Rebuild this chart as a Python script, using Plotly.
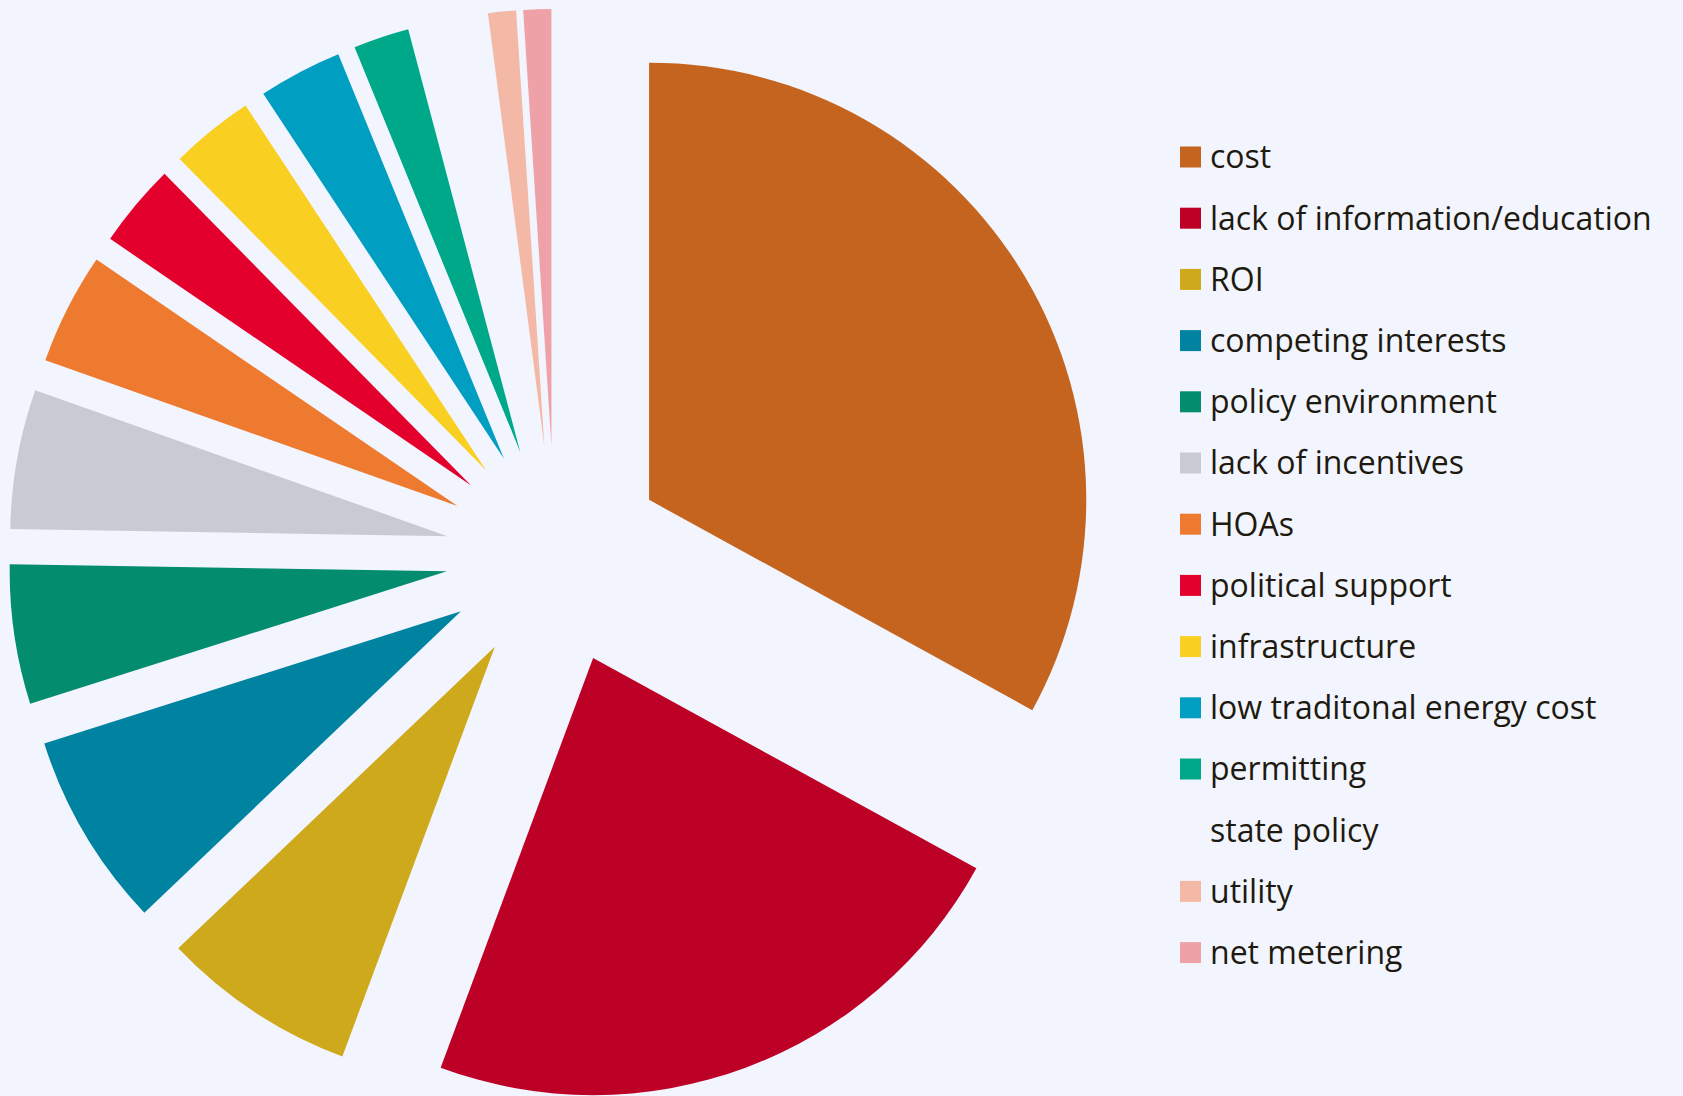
"""
Barriers pie chart with every slice pulled out and a hand-built legend.
"""

import plotly.graph_objects as go

# ============================================================================
# Data
# ============================================================================

labels = [
    "cost", "lack of information/education", "ROI", "competing interests",
    "policy environment", "lack of incentives", "HOAs", "political support",
    "infrastructure", "low traditonal energy cost", "permitting",
    "state policy", "utility", "net metering",
]
counts = [32, 22, 7, 7, 5, 5, 4, 3, 3, 3, 2, 2, 1, 1]
colors = [
    "#C4641F", "#BC0026", "#CFA91C", "#0083A0", "#038C6E", "#C9CAD4",
    "#ED7A2F", "#E4002D", "#F9D022", "#009FC2", "#00A88A",
    "rgba(0,0,0,0)", "#F4B9A6", "#EEA1A6",
]

# ============================================================================
# Layout constants
# ============================================================================

W, H = 1683, 1102   # a few px taller than the window, bottom is clipped
TOP = 9
BG = "#F2F5FD"


def px_x(x):
    return x / W


def px_y(y):
    return 1 - (y - TOP) / (H - TOP)


fig = go.Figure()

fig.add_trace(go.Pie(
    labels=labels,
    values=counts,
    marker=dict(colors=colors, line=dict(width=0)),
    pull=[0.25] * len(labels),
    sort=False,
    direction="clockwise",
    rotation=0,
    textinfo="none",
    hoverinfo="label+value+percent",
    domain=dict(x=[0, 1110 / W], y=[0, 1]),
    showlegend=False,
))

# Legend drawn by hand so the swatches and spacing match the original
leg_x, leg_y0, leg_step, sw = 1180, 156, 61.2, 21
for i, (lab, col) in enumerate(zip(labels, colors)):
    yc = leg_y0 + i * leg_step
    fig.add_shape(
        type="rect", xref="paper", yref="paper",
        x0=px_x(leg_x), x1=px_x(leg_x + sw),
        y0=px_y(yc + 1 + sw / 2), y1=px_y(yc + 1 - sw / 2),
        fillcolor=col, line=dict(width=0),
    )
    fig.add_annotation(
        x=px_x(leg_x + 28), y=px_y(yc), xref="paper", yref="paper",
        text=lab, showarrow=False, xanchor="left", yanchor="middle",
        font=dict(family="Open Sans", size=32, color="#1E1A10"),
    )

fig.update_layout(
    width=W,
    height=H,
    margin=dict(l=0, r=0, t=TOP, b=0),
    paper_bgcolor=BG,
    plot_bgcolor=BG,
)

# drop the browser's default body margin so the figure fills the window
fig.write_html(
    "out.html",
    config={"displayModeBar": False},
    post_script="document.body.style.margin='0';"
                "document.body.style.overflow='hidden';"
                f"document.body.style.background='{BG}';",
)
